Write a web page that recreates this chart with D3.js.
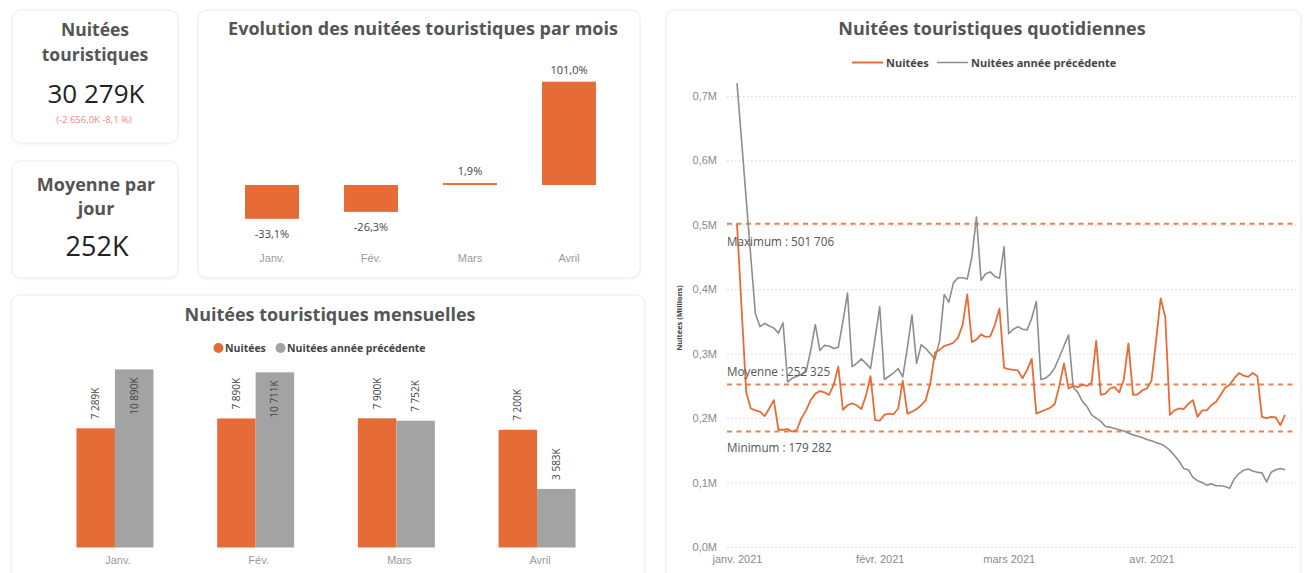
<!DOCTYPE html>
<html><head><meta charset="utf-8">
<script src="https://cdn.jsdelivr.net/npm/d3@7"></script>
<style>
body{margin:0;background:#fff;}
svg{display:block;font-family:"Open Sans","Noto Sans",sans-serif;}
</style>
</head><body>
<svg id="c" width="1304" height="573"></svg>
<script>
// ---------- DATA ----------
const months = ["Janv.", "Fév.", "Mars", "Avril"];
const nuitees = [7289, 7890, 7900, 7200];            // K
const nuiteesPrec = [10890, 10711, 7752, 3583];      // K
const evolutionPct = [-33.1, -26.3, 1.9, 101.0];
const evolutionLabels = ["-33,1%", "-26,3%", "1,9%", "101,0%"];
const monthLabels = ["7 289K", "7 890K", "7 900K", "7 200K"];
const monthPrecLabels = ["10 890K", "10 711K", "7 752K", "3 583K"];

const kpiTotal = "30 279K";
const kpiDelta = "(-2 656,0K -8,1 %)";
const kpiAvg = "252K";

// daily values, thousands, 1 Jan 2021 -> 30 Apr 2021
const dailyNuitees = [
  502,370,240,215,212,210,203,215,228,182,
  182,183,179,182,200,212,228,238,242,240,
  236,252,280,213,220,223,220,214,235,265,
  197,
  196,205,207,206,215,258,207,210,214,220,
  228,255,302,306,312,314,317,325,345,392,
  318,322,330,326,327,345,370,278,
  276,275,274,262,275,292,207,210,213,216,
  222,250,285,246,250,248,252,250,255,320,
  236,238,246,248,240,260,316,236,237,243,
  246,
  258,320,386,357,205,212,215,214,222,228,
  202,212,212,220,225,236,247,252,262,270,
  266,264,270,265,202,200,202,201,189,205
];
const dailyPrec = [
  720,630,540,450,362,342,347,343,340,332,
  348,256,262,265,268,272,305,345,305,313,
  312,308,310,350,394,280,285,292,285,277,
  325,
  373,260,265,270,277,264,310,360,285,314,
  308,300,292,320,392,380,410,418,418,416,
  450,512,414,424,427,420,417,466,
  331,338,342,338,337,355,381,260,262,268,
  278,295,312,329,248,240,226,218,205,200,
  195,187,186,184,182,180,177,174,172,170,
  167,
  165,162,160,156,150,142,133,122,120,108,
  103,100,96,98,95,95,94,91,106,114,
  119,121,118,116,115,101,116,120,122,120
];
const dailyStart = new Date(2021, 0, 1);
const dailyEnd = new Date(2021, 3, 30);
const yTicks = [0, 0.1, 0.2, 0.3, 0.4, 0.5, 0.6, 0.7];
const xTickDates = [new Date(2021,0,1), new Date(2021,1,1), new Date(2021,2,1), new Date(2021,3,1)];
const xTickLabels = ["janv. 2021", "févr. 2021", "mars 2021", "avr. 2021"];
const refNames = ["Maximum", "Moyenne", "Minimum"];
const refValues = [501706, 252325, 179282];
const refLabels = ["Maximum : 501 706", "Moyenne : 252 325", "Minimum : 179 282"];

// ---------- STYLE ----------
const ORANGE = "#E66C37", GREY = "#A3A3A3", GREYLINE = "#8E8E8E";
const TITLE = "#555", TXT = "#444", AXIS = "#8a8a8a";

const svg = d3.select("#c");
const defs = svg.append("defs");
const flt = defs.append("filter").attr("id","sh").attr("x","-5%").attr("y","-5%").attr("width","110%").attr("height","110%");
flt.append("feDropShadow").attr("dx",0).attr("dy",1).attr("stdDeviation",1.5).attr("flood-color","#000").attr("flood-opacity",0.05);

function panel(x,y,w,h){
  svg.append("rect").attr("x",x).attr("y",y).attr("width",w).attr("height",h)
    .attr("rx",9).attr("fill","#fff").attr("stroke","#ebebeb").attr("filter","url(#sh)");
}
function text(x,y,s,opt){
  opt = opt||{};
  return svg.append("text").attr("x",x).attr("y",y).text(s)
    .attr("text-anchor",opt.anchor||"middle")
    .attr("font-size",opt.size||11)
    .attr("font-weight",opt.weight||"normal")
    .attr("fill",opt.fill||TXT);
}

// ---------- KPI CARDS ----------
panel(12,10,166,133);
panel(12,161,166,117);
text(95,36,"Nuitées",{size:17.5,weight:"bold",fill:TITLE});
text(95,61,"touristiques",{size:17.5,weight:"bold",fill:TITLE});
text(96,103,kpiTotal,{size:26,fill:"#222"});
text(94,123,kpiDelta,{size:9.5,fill:"#f0898b"});
text(96,191,"Moyenne par",{size:18,weight:"bold",fill:TITLE});
text(96,215,"jour",{size:18,weight:"bold",fill:TITLE});
text(97,256,kpiAvg,{size:27,fill:"#222"});

// ---------- EVOLUTION ----------
panel(198,10,442,268);
text(423,35,"Evolution des nuitées touristiques par mois",{size:18,weight:"bold",fill:TITLE});
{
  const x = d3.scaleBand().domain(months).range([222.5,618.5]).paddingInner(0.455).paddingOuter(0.2275);
  const y = d3.scaleLinear().domain([-40,110]).range([225.9,72.5]);
  const g = svg.append("g");
  g.selectAll("rect").data(evolutionPct).join("rect")
    .attr("x",(d,i)=>x(months[i])).attr("width",x.bandwidth())
    .attr("y",d=>y(Math.max(0,d))).attr("height",d=>Math.abs(y(d)-y(0)))
    .attr("fill",ORANGE);
  g.selectAll("text.v").data(evolutionPct).join("text").attr("class","v")
    .attr("x",(d,i)=>x(months[i])+x.bandwidth()/2)
    .attr("y",d=> d>=0 ? y(d)-8 : y(d)+19)
    .attr("text-anchor","middle").attr("font-size",11).attr("fill",TXT)
    .text((d,i)=>evolutionLabels[i]);
  const ax = g.append("g").attr("transform","translate(0,254)")
    .call(d3.axisBottom(x).tickSize(0).tickPadding(0));
  ax.select(".domain").remove();
  ax.selectAll("text").attr("font-size",11).attr("fill","#9a9a9a").attr("font-family","inherit");
}

// ---------- MONTHLY ----------
panel(11,295,634,300);
text(330,321,"Nuitées touristiques mensuelles",{size:18,weight:"bold",fill:TITLE});
{
  const keys = ["Nuitées","Nuitées année précédente"];
  const lg = svg.append("g");
  lg.append("circle").attr("cx",218.5).attr("cy",348).attr("r",5).attr("fill",ORANGE);
  lg.append("text").attr("x",225).attr("y",352).text(keys[0]).attr("font-size",10.5).attr("font-weight","bold").attr("fill",TXT);
  lg.append("circle").attr("cx",280.5).attr("cy",348).attr("r",5).attr("fill",GREY);
  lg.append("text").attr("x",287).attr("y",352).text(keys[1]).attr("font-size",10.5).attr("font-weight","bold").attr("fill",TXT);

  const x0 = d3.scaleBand().domain(months).range([44.6,607.4]).paddingInner(0.453).paddingOuter(0.2265);
  const x1 = d3.scaleBand().domain([0,1]).range([0,x0.bandwidth()]);
  const y = d3.scaleLinear().domain([0,11000]).range([547.5,367.6]);
  const rows = months.map((m,i)=>({m, vals:[nuitees[i],nuiteesPrec[i]], labs:[monthLabels[i],monthPrecLabels[i]]}));
  const g = svg.append("g");
  const grp = g.selectAll("g.m").data(rows).join("g").attr("class","m")
    .attr("transform",d=>`translate(${x0(d.m)},0)`);
  grp.selectAll("rect").data(d=>d.vals).join("rect")
    .attr("x",(d,j)=>x1(j)).attr("width",x1.bandwidth())
    .attr("y",d=>y(d)).attr("height",d=>y(0)-y(d))
    .attr("fill",(d,j)=>j===0?ORANGE:GREY);
  grp.each(function(row){
    const gg = d3.select(this);
    row.vals.forEach((v,j)=>{
      const cx = x1(j)+x1.bandwidth()/2+3.5;
      const t = gg.append("text").text(row.labs[j])
        .attr("font-size",10).attr("fill",TXT).attr("text-anchor","start");
      const len = t.node().getComputedTextLength();
      const top = y(v);
      let start = top - 9;           // outside end (text goes upward)
      if (start - len < 360) start = top + 8 + len; // inside end
      t.attr("transform",`translate(${cx},${start}) rotate(-90)`);
    });
  });
  const ax = g.append("g").attr("transform","translate(3,556)")
    .call(d3.axisBottom(x0).tickSize(0).tickPadding(0));
  ax.select(".domain").remove();
  ax.selectAll("text").attr("font-size",11).attr("fill","#9a9a9a").attr("font-family","inherit");
}

// ---------- DAILY ----------
panel(666,10,635,590);
text(992,35,"Nuitées touristiques quotidiennes",{size:18,weight:"bold",fill:TITLE});
{
  const lg = svg.append("g");
  lg.append("line").attr("x1",852).attr("x2",883).attr("y1",62.5).attr("y2",62.5).attr("stroke",ORANGE).attr("stroke-width",2);
  lg.append("text").attr("x",886).attr("y",66.5).text("Nuitées").attr("font-size",11).attr("font-weight","bold").attr("fill",TXT);
  lg.append("line").attr("x1",937).attr("x2",968).attr("y1",62.5).attr("y2",62.5).attr("stroke",GREYLINE).attr("stroke-width",1.5);
  lg.append("text").attr("x",971).attr("y",66.5).text("Nuitées année précédente").attr("font-size",11).attr("font-weight","bold").attr("fill",TXT);

  const x = d3.scaleTime().domain([dailyStart,dailyEnd]).range([737,1285]);
  const y = d3.scaleLinear().domain([0,0.7]).range([547,96]);
  const g = svg.append("g");

  // grid + y axis
  const ya = g.append("g").attr("transform","translate(727,0)")
    .call(d3.axisLeft(y).tickValues(yTicks).tickSize(-569).tickPadding(10)
      .tickFormat(d=>d3.format(".1f")(d).replace(".",",")+"M"));
  ya.select(".domain").remove();
  ya.selectAll(".tick line").attr("stroke","#d6d6d6").attr("stroke-dasharray","1.5,2.5");
  ya.selectAll(".tick text").attr("font-size",11).attr("fill",AXIS).attr("font-family","inherit");

  // x axis
  const xa = g.append("g").attr("transform","translate(0,552)")
    .call(d3.axisBottom(x).tickValues(xTickDates).tickSize(0).tickPadding(3)
      .tickFormat((d,i)=>xTickLabels[i]));
  xa.select(".domain").remove();
  xa.selectAll("text").attr("font-size",11).attr("fill",AXIS).attr("font-family","inherit");

  // y title
  g.append("text").attr("transform","translate(682,318) rotate(-90)")
    .attr("text-anchor","middle").attr("font-size",7.5).attr("font-weight","bold").attr("fill",TXT)
    .text("Nuitées (Millions)");

  // reference lines
  refValues.forEach((v,i)=>{
    g.append("line").attr("x1",727).attr("x2",1296).attr("y1",y(v/1e6)).attr("y2",y(v/1e6))
      .attr("stroke",ORANGE).attr("stroke-width",2).attr("stroke-dasharray","5,4.5").attr("opacity",0.85);
  });

  const dates = dailyNuitees.map((v,i)=>d3.timeDay.offset(dailyStart,i));
  const line = d3.line().x((d,i)=>x(dates[i])).y(d=>y(d/1000));
  g.append("path").datum(dailyPrec).attr("d",line).attr("fill","none")
    .attr("stroke",GREYLINE).attr("stroke-width",1.6).attr("stroke-linejoin","round");
  g.append("path").datum(dailyNuitees).attr("d",line).attr("fill","none")
    .attr("stroke",ORANGE).attr("stroke-width",1.8).attr("stroke-linejoin","round");

  // reference labels
  const offs = [22, -8, 21];
  refValues.forEach((v,i)=>{
    g.append("text").attr("x",727).attr("y",y(v/1e6)+offs[i]).text(refLabels[i])
      .attr("font-size",11.7).attr("fill","#555");
  });
}
</script>
</body></html>
